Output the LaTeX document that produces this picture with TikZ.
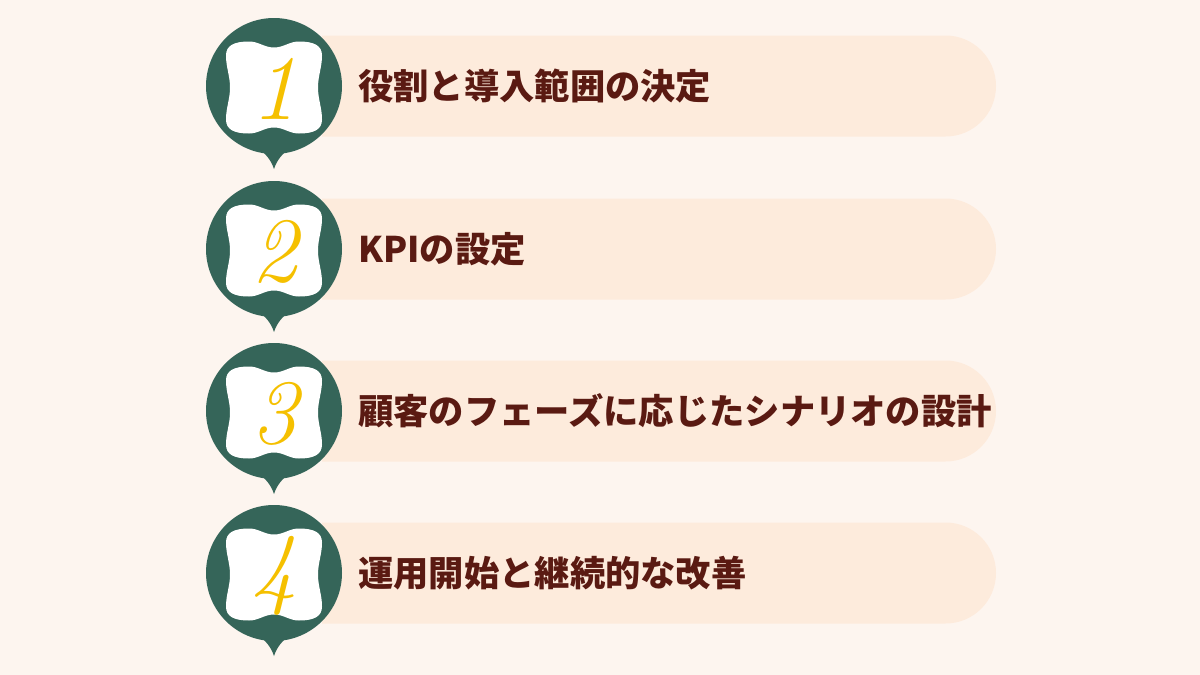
\documentclass[tikz,border=0pt]{standalone}
\usepackage{fontspec}
\newfontfamily\jp{Noto Sans CJK JP}
\definecolor{bgc}{HTML}{FDF5EF}
\definecolor{pillc}{HTML}{FDEBDC}
\definecolor{badgec}{HTML}{356559}
\definecolor{numc}{HTML}{F5C000}
\definecolor{txtc}{HTML}{5A1A12}
\tikzset{
  badge/.style={circle, fill=badgec, minimum size=136pt, inner sep=0pt},
  pillfill/.style={fill=pillc},
  steptext/.style={anchor=west, text=txtc, font=\jp\bfseries\fontsize{35.3}{38}\selectfont, inner sep=0pt},
  stepnum/.style={text=numc, font=\fontsize{92}{92}\selectfont\itshape, inner sep=0pt},
  pics/wavy/.style={code={
    \fill[white] (0,-40) .. controls (10,-40) and (15,-46) .. (25,-46)
      .. controls (40,-46) and (48,-42) .. (48,-32)
      .. controls (48,-20) and (44,-12) .. (44,0)
      .. controls (44,12) and (48,20) .. (48,32)
      .. controls (48,42) and (40,46) .. (25,46)
      .. controls (15,46) and (10,40) .. (0,40)
      .. controls (-10,40) and (-15,46) .. (-25,46)
      .. controls (-40,46) and (-48,42) .. (-48,32)
      .. controls (-48,20) and (-44,12) .. (-44,0)
      .. controls (-44,-12) and (-48,-20) .. (-48,-32)
      .. controls (-48,-42) and (-40,-46) .. (-25,-46)
      .. controls (-15,-46) and (-10,-40) .. (0,-40) -- cycle;
  }}
}
\begin{document}
\begin{tikzpicture}[x=1pt,y=-1pt]
\fill[bgc] (0,0) rectangle (1200,675);
\useasboundingbox (0,0) rectangle (1200,675);
\foreach \i/\cy/\txt in {1/86/役割と導入範囲の決定, 2/249/KPIの設定, 3/411/顧客のフェーズに応じたシナリオの設計, 4/573/運用開始と継続的な改善}{
  \fill[pillfill] (322,\cy-50.5) -- (945.5,\cy-50.5) arc[start angle=-90, end angle=90, radius=50.5] -- (322,\cy+50.5) -- cycle;
  \node[badge] (c\i) at (274,\cy) {};
  \fill[badgec] (258,\cy+62) .. controls (266,\cy+68) and (271,\cy+74) .. (274,\cy+83)
     .. controls (277,\cy+74) and (282,\cy+68) .. (290,\cy+62) -- cycle;
  \pic at (274,\cy+1.5) {wavy};
  \node[stepnum] (n\i) at (274,\cy+3) {\i};
  \node[steptext] (t\i) at (358,\cy) {\txt};
}
\end{tikzpicture}
\end{document}
